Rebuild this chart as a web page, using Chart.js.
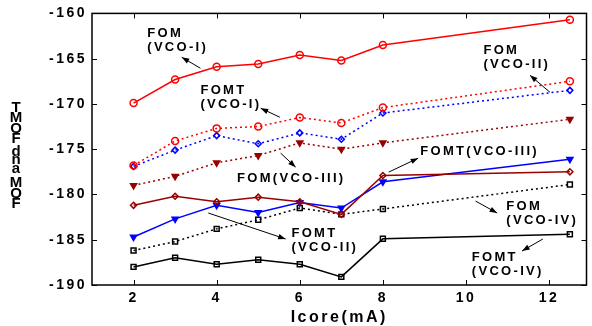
<!DOCTYPE html>
<html>
<head>
<meta charset="utf-8">
<script src="https://cdn.jsdelivr.net/npm/chart.js@4/dist/chart.umd.min.js"></script>
<style>
  html, body { margin: 0; background: #fff; }
</style>
</head>
<body>
<canvas id="chart" width="592" height="326"></canvas>
<script>
// data
const icore = [2, 3, 4, 5, 6, 7, 8, 12.5]
const fomVco1 = [-169.9, -167.3, -165.9, -165.6, -164.6, -165.2, -163.5, -160.7]
const fomtVco1 = [-176.8, -174.1, -172.7, -172.5, -171.5, -172.1, -170.4, -167.5]
const fomVco2 = [-176.9, -175.1, -173.5, -174.4, -173.2, -173.9, -171.0, -168.5]
const fomVco3 = [-179.0, -178.0, -176.5, -175.7, -174.3, -175.0, -174.3, -171.7]
const fomtVco3 = [-181.2, -180.2, -180.8, -180.3, -180.8, -182.2, -177.9, -177.5]
const fomtVco2 = [-184.7, -182.7, -181.2, -182.0, -180.9, -181.5, -178.6, -176.1]
const fomVco4 = [-186.2, -185.2, -183.8, -182.8, -181.5, -182.2, -181.6, -178.9]
const fomtVco4 = [-188.0, -187.0, -187.7, -187.2, -187.7, -189.1, -184.9, -184.4]

const xTicks = [2, 4, 6, 8, 10, 12]
const yTicks = [-160, -165, -170, -175, -180, -185, -190]
const xTitle = 'Icore(mA)'
const yTitle = 'FOM and FOMT'

// callout labels: text, top-left anchor, arrow tail -> tip (data units)
const notes = [
  { text: ['FOM', '(VCO-I)'], at: [2.33, -162.2], from: [3.61, -166.06], to: [3.16, -164.85] },
  { text: ['FOMT', '(VCO-I)'], at: [3.61, -168.5], from: [5.52, -171.47], to: [5.06, -170.47] },
  { text: ['FOM', '(VCO-II)'], at: [10.42, -164.08], from: [12.02, -168.71], to: [11.54, -166.84] },
  { text: ['FOMT(VCO-III)'], at: [8.9, -175.21], from: [8.14, -177.53], to: [8.85, -175.99] },
  { text: ['FOM(VCO-III)'], at: [4.49, -178.19], from: [5.54, -175.44], to: [5.9, -176.98] },
  { text: ['FOMT', '(VCO-II)'], at: [5.8, -184.26], from: [3.8, -182.05], to: [5.66, -184.92] },
  { text: ['FOM', '(VCO-IV)'], at: [10.97, -181.28], from: [10.23, -180.73], to: [10.75, -182.05] },
  { text: ['FOMT', '(VCO-IV)'], at: [10.14, -186.9], from: [11.85, -184.92], to: [11.35, -186.24] },
]

const FONT = "'Liberation Sans', Arial, sans-serif"
const RED = '#ff0000'
const BLUE = '#0000ff'
const DARKRED = '#990000'
const BLACK = '#000000'
const DOT = [2, 3]

const series = (label, ys, color, pointStyle, dashed, opts = {}) => ({
  label,
  data: icore.map((x, i) => ({ x, y: ys[i] })),
  borderColor: color,
  backgroundColor: '#ffffff',
  pointBorderColor: color,
  pointBackgroundColor: 'rgba(255,255,255,0)',
  borderWidth: 1.5,
  pointBorderWidth: 1.5,
  pointRadius: 3.5,
  pointStyle,
  borderDash: dashed ? DOT : [],
  tension: 0,
  ...opts,
})

const frame = {
  id: 'frame',
  beforeDraw(chart) {
    chart.ctx.letterSpacing = '2.5px'
  },
  afterDraw(chart) {
    const { ctx, chartArea: a, scales: { x, y } } = chart
    ctx.save()
    ctx.letterSpacing = '0px'
    ctx.strokeStyle = BLACK
    ctx.lineWidth = 1.5
    ctx.setLineDash([])
    ctx.strokeRect(a.left, a.top, a.right - a.left, a.bottom - a.top)
    ctx.beginPath()
    xTicks.forEach(v => {
      const px = Math.round(x.getPixelForValue(v)) + 0.5
      ctx.moveTo(px, a.top); ctx.lineTo(px, a.top + 5)
      ctx.moveTo(px, a.bottom); ctx.lineTo(px, a.bottom - 5)
    })
    yTicks.forEach(v => {
      const py = Math.round(y.getPixelForValue(v)) + 0.5
      ctx.moveTo(a.left, py); ctx.lineTo(a.left + 5, py)
      ctx.moveTo(a.right, py); ctx.lineTo(a.right - 5, py)
    })
    ctx.lineWidth = 1
    ctx.stroke()

    // callouts
    ctx.fillStyle = BLACK
    ctx.font = `bold 13px ${FONT}`
    ctx.letterSpacing = '2.3px'
    ctx.textBaseline = 'middle'
    ctx.textAlign = 'left'
    notes.forEach(n => {
      const tx = x.getPixelForValue(n.at[0])
      const ty = y.getPixelForValue(n.at[1])
      n.text.forEach((t, i) => ctx.fillText(t, tx, ty + i * 14.5))
      const x0 = x.getPixelForValue(n.from[0]), y0 = y.getPixelForValue(n.from[1])
      const x1 = x.getPixelForValue(n.to[0]), y1 = y.getPixelForValue(n.to[1])
      const ang = Math.atan2(y1 - y0, x1 - x0)
      ctx.beginPath()
      ctx.moveTo(x0, y0); ctx.lineTo(x1, y1)
      ctx.lineWidth = 1
      ctx.stroke()
      ctx.beginPath()
      ctx.moveTo(x1, y1)
      ctx.lineTo(x1 - 8 * Math.cos(ang - 0.35), y1 - 8 * Math.sin(ang - 0.35))
      ctx.lineTo(x1 - 8 * Math.cos(ang + 0.35), y1 - 8 * Math.sin(ang + 0.35))
      ctx.closePath()
      ctx.fill()
    })

    // y title: upright letters stacked bottom to top
    ctx.letterSpacing = '0px'
    ctx.font = `bold 15px ${FONT}`
    ctx.textAlign = 'center'
    let cy = 204
    yTitle.split('').forEach(ch => {
      if (ch === ' ') { cy -= 4; return }
      ctx.fillText(ch, 16, cy)
      cy -= ch === ch.toUpperCase() ? 10.5 : 8.5
    })
    ctx.restore()
  },
}

new Chart(document.getElementById('chart'), {
  type: 'line',
  data: {
    datasets: [
      series('FOM (VCO-I)', fomVco1, RED, 'circle', false),
      series('FOMT (VCO-I)', fomtVco1, RED, 'circle', true),
      series('FOM (VCO-II)', fomVco2, BLUE, 'rectRot', true, { pointRadius: 3 }),
      series('FOM (VCO-III)', fomVco3, DARKRED, 'triangle', true, { pointRotation: 180, pointBackgroundColor: DARKRED }),
      series('FOMT (VCO-III)', fomtVco3, DARKRED, 'rectRot', false, { pointRadius: 3 }),
      series('FOMT (VCO-II)', fomtVco2, BLUE, 'triangle', false, { pointRotation: 180, pointBackgroundColor: BLUE }),
      series('FOM (VCO-IV)', fomVco4, BLACK, 'rect', true, { pointRadius: 3.5 }),
      series('FOMT (VCO-IV)', fomtVco4, BLACK, 'rect', false, { pointRadius: 3.5 }),
    ],
  },
  options: {
    responsive: false,
    animation: false,
    layout: { padding: { left: 0, top: 13, right: 1, bottom: 0 } },
    plugins: { legend: { display: false }, tooltip: { enabled: false } },
    scales: {
      x: {
        type: 'linear',
        min: 1,
        max: 12.9,
        afterBuildTicks: scale => { scale.ticks = xTicks.map(value => ({ value })) },
        afterFit: scale => { scale.height = 41 },
        grid: { display: false, drawTicks: false },
        border: { display: false },
        ticks: { color: BLACK, font: { family: FONT, size: 14, weight: 'bold' }, padding: 5, maxRotation: 0 },
        title: {
          display: true,
          text: xTitle,
          color: BLACK,
          font: { family: FONT, size: 16, weight: 'bold' },
          padding: { top: 0, bottom: -1 },
        },
      },
      y: {
        min: -190,
        max: -160,
        afterBuildTicks: scale => { scale.ticks = yTicks.map(value => ({ value })) },
        afterFit: scale => { scale.width = 92 },
        grid: { display: false, drawTicks: false },
        border: { display: false },
        ticks: { color: BLACK, font: { family: FONT, size: 14, weight: 'bold' }, padding: 5 },
      },
    },
  },
  plugins: [frame],
})
</script>
</body>
</html>
